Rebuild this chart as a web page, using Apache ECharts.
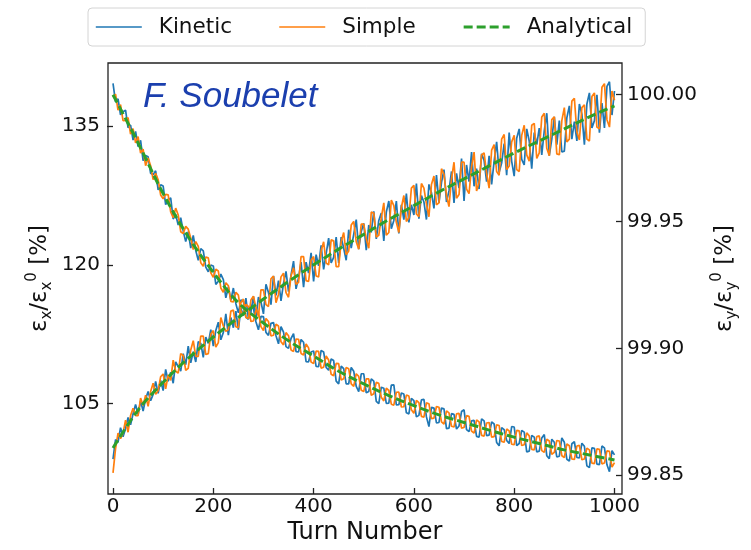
<!DOCTYPE html>
<html><head><meta charset="utf-8">
<script src="https://cdn.jsdelivr.net/npm/echarts@6/dist/echarts.min.js"></script>
<style>html,body{margin:0;padding:0;background:#fff}#c{width:751px;height:550px}</style>
</head><body><div id="c"></div>
<script>
// Turn numbers of the sampled noisy curves
const turns = [0,5,10,15,20,25,30,35,40,45,50,55,60,65,70,75,80,85,90,95,
100,105,110,115,120,125,130,135,140,145,150,155,160,165,170,175,180,185,190,195,
200,205,210,215,220,225,230,235,240,245,250,255,260,265,270,275,280,285,290,295,
300,305,310,315,320,325,330,335,340,345,350,355,360,365,370,375,380,385,390,395,
400,405,410,415,420,425,430,435,440,445,450,455,460,465,470,475,480,485,490,495,
500,505,510,515,520,525,530,535,540,545,550,555,560,565,570,575,580,585,590,595,
600,605,610,615,620,625,630,635,640,645,650,655,660,665,670,675,680,685,690,695,
700,705,710,715,720,725,730,735,740,745,750,755,760,765,770,775,780,785,790,795,
800,805,810,815,820,825,830,835,840,845,850,855,860,865,870,875,880,885,890,895,
900,905,910,915,920,925,930,935,940,945,950,955,960,965,970,975,980,985,990,995,1000];
// Horizontal emittance (left axis), %
const kineticX = [99.0,101.1,100.8,102.4,101.4,102.3,103.5,102.7,103.9,104.9,
103.8,105.3,104.2,105.5,106.3,105.3,106.0,107.4,106.1,107.5,
106.4,108.7,107.4,108.4,107.2,109.5,109.0,108.5,110.4,109.2,
111.2,109.4,110.6,109.5,111.7,111.5,110.0,112.2,111.5,113.0,
111.2,112.9,113.8,111.9,112.7,114.7,112.4,114.3,113.2,115.0,
113.0,115.3,114.5,116.4,114.2,114.9,116.6,114.3,116.5,116.0,
114.7,117.9,117.0,115.7,118.8,116.7,118.3,116.1,118.0,119.3,
117.1,118.9,120.4,117.4,118.6,120.3,117.6,120.3,119.1,121.3,
118.2,121.1,119.9,122.1,119.5,121.2,122.9,120.2,120.8,123.0,
120.2,123.0,121.8,120.5,123.8,121.8,123.3,124.9,121.7,123.6,
124.5,121.6,124.3,123.5,125.8,122.8,124.8,125.6,122.6,125.7,
126.9,123.9,124.8,126.9,123.4,126.5,124.9,127.7,124.6,126.5,
125.4,128.8,125.0,127.5,126.8,124.9,128.7,127.8,126.1,129.7,
126.7,128.9,130.3,126.8,128.0,130.1,126.7,129.9,128.3,131.5,
126.9,130.8,129.0,132.2,128.5,130.4,128.2,132.0,131.3,129.0,
131.8,128.7,131.2,133.3,130.0,131.0,133.1,129.7,134.3,131.2,
129.6,133.7,134.7,131.4,130.8,134.7,133.4,130.4,134.3,133.0,
134.8,131.9,134.5,136.4,131.8,133.6,136.0,133.0,135.6,132.2,
132.3,135.9,137.2,133.6,135.5,133.4,137.4,136.3,133.0,137.4,
138.6,134.8,135.6,138.4,134.3,137.5,134.8,139.3,139.8,136.2,138.8];
const simpleX = [97.5,100.1,101.8,101.2,101.8,103.2,101.9,103.7,104.5,103.7,
103.7,105.6,104.8,105.9,104.7,106.3,107.2,106.0,106.4,107.9,
108.2,106.6,108.1,107.5,109.7,108.5,108.3,110.4,110.2,108.6,
108.8,110.8,111.8,110.1,110.1,112.3,112.3,110.3,110.4,112.5,
112.9,111.1,111.6,114.3,113.4,112.8,113.0,115.0,115.1,113.3,
113.2,115.9,116.3,114.3,114.2,116.2,116.6,115.4,114.4,117.3,
117.3,115.7,115.5,118.5,118.8,115.9,116.8,118.7,119.1,117.0,
116.5,118.8,119.7,117.9,118.1,120.9,120.9,118.3,118.2,120.5,
120.9,118.8,118.7,121.5,122.5,120.2,120.0,122.7,122.6,119.8,
119.8,122.5,123.5,121.1,121.5,124.3,124.7,122.5,121.7,124.4,
124.4,122.8,121.8,125.7,125.6,123.0,123.2,125.1,126.7,123.2,
123.5,127.0,126.4,124.6,123.5,126.2,127.5,124.7,125.1,128.3,
128.6,125.5,125.2,128.8,128.3,126.6,125.2,128.7,129.6,126.5,
126.7,130.4,129.8,127.5,126.3,129.3,131.1,127.2,127.6,131.1,
131.1,128.2,127.7,130.6,132.2,128.0,128.9,131.9,132.1,129.9,
128.3,132.4,133.0,130.1,129.7,133.6,134.1,130.3,130.7,133.3,
134.0,130.3,130.1,134.0,135.1,131.9,131.2,135.1,135.3,131.5,
132.1,136.0,136.4,132.6,131.8,135.7,136.0,132.0,131.9,135.6,
137.0,133.3,133.6,137.7,138.0,134.4,133.5,137.0,137.3,133.6,
133.4,138.2,138.6,134.9,134.7,139.2,139.6,135.7,134.9,138.8,137.8];
// Vertical emittance (right axis), %
const kineticY = [100.0045,99.9972,99.9984,99.9921,99.9933,99.9939,99.9870,99.9880,99.9821,99.9855,
99.9795,99.9820,99.9740,99.9760,99.9755,99.9690,99.9685,99.9700,99.9625,99.9645,
99.9640,99.9567,99.9585,99.9593,99.9510,99.9528,99.9486,99.9515,99.9463,99.9421,
99.9460,99.9395,99.9445,99.9386,99.9347,99.9393,99.9384,99.9320,99.9302,99.9328,
99.9325,99.9252,99.9265,99.9293,99.9271,99.9199,99.9242,99.9190,99.9238,99.9176,
99.9140,99.9191,99.9187,99.9123,99.9115,99.9171,99.9158,99.9105,99.9073,99.9126,
99.9125,99.9063,99.9051,99.9099,99.9102,99.9050,99.9018,99.9086,99.9064,99.9007,
99.9000,99.9039,99.9058,99.8987,99.8986,99.9035,99.9024,99.8948,99.8947,99.8986,
99.8990,99.8929,99.8928,99.8992,99.8986,99.8925,99.8914,99.8958,99.8952,99.8871,
99.8860,99.8930,99.8920,99.8860,99.8860,99.8925,99.8910,99.8850,99.8830,99.8900,
99.8900,99.8825,99.8830,99.8880,99.8871,99.8791,99.8782,99.8847,99.8843,99.8783,
99.8784,99.8855,99.8856,99.8777,99.8778,99.8824,99.8820,99.8746,99.8742,99.8803,
99.8794,99.8730,99.8736,99.8797,99.8799,99.8730,99.8692,99.8768,99.8765,99.8706,
99.8708,99.8765,99.8762,99.8684,99.8686,99.8743,99.8740,99.8682,99.8694,99.8751,
99.8758,99.8680,99.8672,99.8714,99.8716,99.8653,99.8650,99.8722,99.8714,99.8656,
99.8658,99.8710,99.8702,99.8629,99.8616,99.8688,99.8680,99.8637,99.8625,99.8692,
99.8690,99.8617,99.8625,99.8677,99.8670,99.8592,99.8595,99.8657,99.8650,99.8592,
99.8595,99.8647,99.8660,99.8577,99.8565,99.8642,99.8630,99.8572,99.8575,99.8647,
99.8630,99.8563,99.8556,99.8624,99.8632,99.8570,99.8568,99.8626,99.8614,99.8537,
99.8530,99.8608,99.8606,99.8544,99.8542,99.8615,99.8608,99.8541,99.8514,99.8597,99.8580];
const simpleY = [99.9990,100.0002,99.9939,99.9961,99.9898,99.9899,99.9910,99.9845,99.9866,99.9810,
99.9835,99.9770,99.9785,99.9720,99.9750,99.9720,99.9665,99.9690,99.9665,99.9605,
99.9590,99.9607,99.9605,99.9538,99.9515,99.9553,99.9526,99.9460,99.9453,99.9481,
99.9470,99.9435,99.9390,99.9421,99.9402,99.9338,99.9324,99.9360,99.9357,99.9298,
99.9280,99.9312,99.9305,99.9238,99.9221,99.9259,99.9247,99.9185,99.9183,99.9221,
99.9210,99.9146,99.9132,99.9173,99.9165,99.9106,99.9108,99.9150,99.9143,99.9086,
99.9070,99.9118,99.9106,99.9049,99.9052,99.9095,99.9088,99.9026,99.9014,99.9062,
99.9050,99.8994,99.8988,99.9037,99.9036,99.8980,99.8974,99.9018,99.9002,99.8946,
99.8940,99.8989,99.8988,99.8922,99.8926,99.8970,99.8954,99.8898,99.8892,99.8941,
99.8940,99.8875,99.8880,99.8925,99.8920,99.8860,99.8850,99.8900,99.8890,99.8835,
99.8830,99.8880,99.8880,99.8815,99.8821,99.8866,99.8862,99.8807,99.8793,99.8843,
99.8834,99.8780,99.8776,99.8827,99.8828,99.8769,99.8770,99.8816,99.8812,99.8758,
99.8744,99.8795,99.8786,99.8732,99.8729,99.8785,99.8782,99.8723,99.8725,99.8771,
99.8768,99.8710,99.8702,99.8754,99.8746,99.8693,99.8690,99.8742,99.8744,99.8686,
99.8688,99.8735,99.8732,99.8674,99.8666,99.8718,99.8710,99.8657,99.8654,99.8706,
99.8708,99.8650,99.8652,99.8699,99.8696,99.8633,99.8630,99.8682,99.8675,99.8622,
99.8620,99.8677,99.8675,99.8617,99.8620,99.8667,99.8655,99.8602,99.8600,99.8652,
99.8655,99.8597,99.8590,99.8642,99.8635,99.8582,99.8590,99.8637,99.8635,99.8577,
99.8570,99.8623,99.8616,99.8564,99.8562,99.8615,99.8618,99.8561,99.8564,99.8607,
99.8600,99.8548,99.8546,99.8604,99.8602,99.8545,99.8548,99.8596,99.8594,99.8532,99.8550];
// Analytical curves
const anaTurns = [0,50,100,150,200,250,300,350,400,450,500,550,600,650,700,750,800,850,900,950,1000];
const anaX = [100.2,104.3,107.3,109.9,112.2,114.3,116.3,118.2,120.0,121.7,123.3,124.9,126.4,127.9,129.3,130.7,132.1,133.4,134.7,136.0,137.2];
const anaY = [100.000,99.981,99.961,99.944,99.930,99.918,99.910,99.903,99.897,99.891,99.886,99.8814,99.8774,99.8738,99.8708,99.8678,99.865,99.8625,99.860,99.858,99.856];
// Tick values
const xTicks = [0,200,400,600,800,1000];
const yLeftTicks = [105,120,135];
const yRightTicks = [99.85,99.90,99.95,100.00];
const legendNames = ['Kinetic','Simple','Analytical'];

const FONT = 'DejaVu Sans';
const INK = '#111';
const pair = (xs, ys) => xs.map((x, i) => [x, ys[i]]);
const nameRich = {
  a: {fontFamily: FONT, fontSize: 23, lineHeight: 30, color: INK},
  b: {fontFamily: FONT, fontSize: 15, lineHeight: 15, verticalAlign: 'bottom', color: INK},
  c: {fontFamily: FONT, fontSize: 15, lineHeight: 15, verticalAlign: 'top', color: INK}
};
const tickStyle = {color: '#222', width: 1.3};
const C = {k: '#1f77b4', s: '#ff7f0e', a: '#2ca02c'};
function noisy(name, color, data, yi, z) {
  return {name, type: 'line', yAxisIndex: yi, data, symbol: 'none', showSymbol: false,
    lineStyle: {width: 1.7, color}, itemStyle: {color}, z, silent: true};
}
function ana(data, yi) {
  return {name: 'Analytical', type: 'line', yAxisIndex: yi, data, symbol: 'none', showSymbol: false,
    smooth: 0.35, lineStyle: {width: 3, color: C.a, type: [9, 4]}, itemStyle: {color: C.a}, z: 5, silent: true};
}
const chart = echarts.init(document.getElementById('c'), null, {renderer: 'canvas'});
chart.setOption({
  animation: false,
  backgroundColor: '#fff',
  textStyle: {fontFamily: FONT},
  legend: {
    data: [
      {name: legendNames[0], lineStyle: {width: 1.6, color: C.k}},
      {name: legendNames[1], lineStyle: {width: 1.6, color: C.s}},
      {name: legendNames[2], lineStyle: {width: 3, color: C.a, type: [9, 4]}}
    ],
    left: 88, top: 8, padding: [8, 13, 8, 7], itemGap: 46.5,
    itemWidth: 46, itemHeight: 14, borderColor: '#d4d4d4', borderWidth: 1, borderRadius: 4,
    backgroundColor: '#fff',
    itemStyle: {opacity: 0},
    textStyle: {fontFamily: FONT, fontSize: 21.5, color: INK, padding: [0, 0, 0, 12]}
  },
  grid: {left: 108, top: 63, right: 129, bottom: 52, show: true, borderColor: '#222', borderWidth: 1.3, backgroundColor: 'transparent'},
  xAxis: {
    type: 'value', min: -10, max: 1015,
    axisLine: {show: false},
    axisTick: {show: true, inside: true, length: 6, lineStyle: tickStyle, customValues: xTicks},
    axisLabel: {customValues: xTicks, fontSize: 20, color: INK, margin: 3, fontFamily: FONT,
      formatter: v => String(v)},
    splitLine: {show: false},
    name: 'Turn Number', nameLocation: 'middle', nameGap: 27, nameMoveOverlap: false,
    nameTextStyle: {fontSize: 24, color: INK, fontFamily: FONT}
  },
  yAxis: [{
    type: 'value', position: 'left', min: 95.22, max: 141.83,
    axisLine: {show: false},
    axisTick: {show: true, inside: false, length: 6, lineStyle: tickStyle, customValues: yLeftTicks},
    axisLabel: {customValues: yLeftTicks, fontSize: 20, color: INK, margin: 8, fontFamily: FONT,
      formatter: v => String(v)},
    splitLine: {show: false},
    name: '{a|ε}{b|x}{a|/ε}{b|x}{c|0}{a| [%]}', nameLocation: 'middle', nameRotate: 90, nameGap: 53,
    nameMoveOverlap: false,
    nameTextStyle: {rich: nameRich}
  }, {
    type: 'value', position: 'right', min: 99.8426, max: 100.0125,
    axisLine: {show: false},
    axisTick: {show: true, inside: true, length: 6, lineStyle: tickStyle, customValues: yRightTicks},
    axisLabel: {customValues: yRightTicks, fontSize: 20, color: INK, margin: 5, fontFamily: FONT,
      formatter: v => Number(v).toFixed(2)},
    splitLine: {show: false},
    name: '{a|ε}{b|y}{a|/ε}{b|y}{c|0}{a| [%]}', nameLocation: 'middle', nameRotate: 90, nameGap: 88,
    nameMoveOverlap: false,
    nameTextStyle: {rich: nameRich}
  }],
  graphic: [{
    type: 'text', x: 143, y: 97, z: 10,
    style: {text: 'F. Soubelet', fontFamily: 'Liberation Sans', fontStyle: 'italic', fontSize: 35,
      fill: '#1b3fae', verticalAlign: 'middle', align: 'left'}
  }],
  series: [
    noisy('Kinetic', C.k, pair(turns, kineticX), 0, 2),
    noisy('Kinetic', C.k, pair(turns, kineticY), 1, 2),
    noisy('Simple', C.s, pair(turns, simpleX), 0, 3),
    noisy('Simple', C.s, pair(turns, simpleY), 1, 3),
    ana(pair(anaTurns, anaX), 0),
    ana(pair(anaTurns, anaY), 1)
  ]
});
</script></body></html>
